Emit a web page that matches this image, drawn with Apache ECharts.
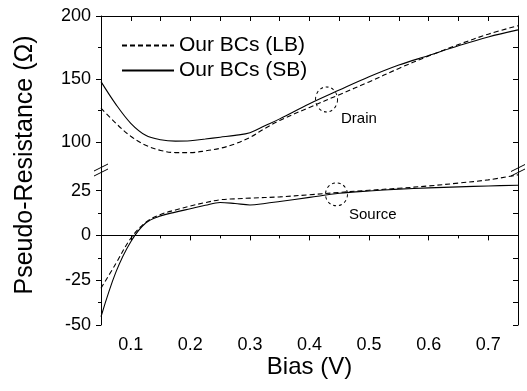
<!DOCTYPE html>
<html>
<head>
<meta charset="utf-8">
<script src="https://cdn.jsdelivr.net/npm/echarts@6/dist/echarts.min.js"></script>
<style>
  html, body { margin: 0; padding: 0; background: #fff; }
  #main { width: 527px; height: 391px; }
</style>
</head>
<body>
<div id="main"></div>
<script>
// drain curves (upper panel), [bias, resistance]
const drainLB = [[0.05,127],[0.075,115],[0.1,104.7],[0.125,97.6],[0.15,93.5],[0.175,91.8],[0.2,91.8],[0.225,93.1],[0.25,95.2],[0.275,98.7],[0.3,103.8],[0.325,110.9],[0.35,117.3],[0.4,127.6],[0.45,137.7],[0.5,147.8],[0.55,158.5],[0.6,168.3],[0.65,177.4],[0.7,185.6],[0.75,192.3]];
const drainSB = [[0.05,148],[0.075,130],[0.1,115],[0.125,105.5],[0.15,102],[0.175,100.9],[0.2,101.2],[0.225,102.5],[0.25,104],[0.275,105.4],[0.3,107.5],[0.325,113],[0.35,118.5],[0.4,130.5],[0.45,141.3],[0.5,151.8],[0.55,161.1],[0.6,168.7],[0.65,176.4],[0.7,183.4],[0.75,189]];
// source curves (lower panel)
const sourceLB = [[0.05,-29.5],[0.075,-15.7],[0.1,-1.6],[0.125,7.3],[0.15,11.7],[0.175,14.2],[0.2,16.4],[0.225,18.3],[0.25,19.9],[0.275,20.4],[0.3,20.8],[0.35,21.5],[0.4,22.7],[0.45,24],[0.5,25.2],[0.55,26.3],[0.6,27.6],[0.65,29.2],[0.7,31],[0.75,33.8]];
const sourceSB = [[0.05,-45.4],[0.075,-20.5],[0.1,-3.5],[0.125,6.9],[0.15,10.9],[0.175,13],[0.2,14.9],[0.225,16.8],[0.25,18.4],[0.275,17.8],[0.3,17],[0.325,17.8],[0.35,18.9],[0.4,21.2],[0.45,23.5],[0.5,24.8],[0.55,25.8],[0.6,26.5],[0.65,27.1],[0.7,27.6],[0.75,28]];

const biasTicks = [0.1, 0.2, 0.3, 0.4, 0.5, 0.6, 0.7];
const biasMinor = [0.15, 0.25, 0.35, 0.45, 0.55, 0.65];
const upperTicks = [100, 150, 200];
const upperMinor = [125, 175];
const lowerTicks = [-50, -25, 0, 25];
const lowerMinor = [-37.5, -12.5, 12.5];

const drainMark = [0.4286, 133.9];
const sourceMark = [0.4453, 22.9];

const font = 'Arial, "Liberation Sans", sans-serif';
const L = 101, R = 9, TOP = 16, BREAK = 170, BOTTOM = 66;

const chart = echarts.init(document.getElementById('main'));

const line = { show: true, lineStyle: { color: '#000', width: 1 } };
const noLine = { show: false };

function yAx(grid, min, max, opts) {
  return Object.assign({
    type: 'value', gridIndex: grid, min: min, max: max,
    splitLine: { show: false }, axisLabel: { show: false }
  }, opts);
}

function curve(name, xi, yi, data, dashed, mark) {
  const s = {
    name: name, type: 'line', xAxisIndex: xi, yAxisIndex: yi, data: data,
    smooth: 0.35, symbol: 'none', color: '#000',
    lineStyle: { color: '#000', width: 1.1, type: dashed ? [5, 3] : 'solid' }
  };
  if (mark) s.markPoint = mark;
  return s;
}

function circleMark(text, coord, size, dist, dy) {
  return {
    silent: true, symbol: 'circle', symbolSize: size,
    itemStyle: { color: 'rgba(0,0,0,0)', borderColor: '#000', borderWidth: 1, borderType: [3, 3] },
    label: { show: true, position: 'right', distance: dist, offset: [0, dy], formatter: text,
      fontFamily: font, fontSize: 15, color: '#000' },
    data: [{ coord: coord }]
  };
}

const option = {
  animation: false,
  backgroundColor: '#fff',
  grid: [
    { left: L, right: R, top: TOP, height: BREAK - TOP },
    { left: L, right: R, top: BREAK, bottom: BOTTOM }
  ],
  legend: {
    orient: 'vertical', left: 116, top: 30,
    itemWidth: 52, itemHeight: 14, itemGap: 4,
    itemStyle: { opacity: 0 },
    data: ['Our BCs (LB)', 'Our BCs (SB)'],
    textStyle: { fontFamily: font, fontSize: 21, color: '#000', lineHeight: 21 }
  },
  xAxis: [
    { type: 'value', gridIndex: 0, min: 0.05, max: 0.75, position: 'top',
      axisLine: line, splitLine: { show: false }, axisLabel: { show: false },
      axisTick: { inside: true, length: 5, lineStyle: { color: '#000' },
        customValues: biasTicks.concat(biasMinor) } },
    { type: 'value', gridIndex: 1, min: 0.05, max: 0.75, position: 'bottom',
      name: 'Bias (V)', nameLocation: 'middle', nameGap: 28,
      nameTextStyle: { fontFamily: font, fontSize: 24, color: '#000' },
      axisLine: line, splitLine: { show: false },
      axisTick: { length: 5, lineStyle: { color: '#000' }, customValues: biasTicks },
      axisLabel: { fontFamily: font, fontSize: 18, color: '#000', margin: 11, customValues: biasTicks } },
    { type: 'value', gridIndex: 1, min: 0.05, max: 0.75, position: 'bottom',
      axisLine: noLine, splitLine: { show: false }, axisLabel: { show: false },
      axisTick: { length: 3, lineStyle: { color: '#000' }, customValues: biasMinor } }
  ],
  yAxis: [
    yAx(0, 78, 200, { position: 'left', axisLine: line,
      axisTick: { length: 5, lineStyle: { color: '#000' }, customValues: upperTicks },
      axisLabel: { fontFamily: font, fontSize: 18, color: '#000', margin: 10, customValues: upperTicks } }),
    yAx(0, 78, 200, { position: 'left', axisLine: noLine,
      axisTick: { length: 3, lineStyle: { color: '#000' }, customValues: upperMinor } }),
    yAx(0, 78, 200, { position: 'right', axisLine: line,
      axisTick: { inside: true, length: 5, lineStyle: { color: '#000' }, customValues: upperTicks.concat(upperMinor) } }),
    yAx(1, -50, 36.5, { position: 'left', axisLine: line,
      axisTick: { length: 5, lineStyle: { color: '#000' }, customValues: lowerTicks },
      axisLabel: { fontFamily: font, fontSize: 18, color: '#000', margin: 10, customValues: lowerTicks } }),
    yAx(1, -50, 36.5, { position: 'left', axisLine: noLine,
      axisTick: { length: 3, lineStyle: { color: '#000' }, customValues: lowerMinor } }),
    yAx(1, -50, 36.5, { position: 'right', axisLine: line,
      axisTick: { inside: true, length: 5, lineStyle: { color: '#000' }, customValues: lowerTicks.concat(lowerMinor) } })
  ],
  series: [
    curve('Our BCs (LB)', 0, 0, drainLB, true),
    curve('Our BCs (SB)', 0, 0, drainSB, false, circleMark('Drain', drainMark, [22, 25], 3, 19)),
    curve('Our BCs (LB)', 1, 3, sourceLB, true),
    curve('Our BCs (SB)', 1, 3, sourceSB, false, circleMark('Source', sourceMark, [22, 23], 1, 20))
  ],
  graphic: [
    { type: 'text', x: 25, y: 165, rotation: Math.PI / 2,
      style: { text: 'Pseudo-Resistance (\u03A9)', font: '25px ' + font, fill: '#000',
        align: 'center', verticalAlign: 'middle' } }
  ]
};

// axis break marks on both vertical axes
const xr = 527 - R;
[[L, BREAK - 2.5], [L, BREAK + 2.5], [xr, BREAK - 2], [xr, BREAK + 2.5]].forEach(function (p) {
  option.graphic.push({ type: 'line', shape: { x1: p[0] - 7, y1: p[1] + 3.5, x2: p[0] + 7, y2: p[1] - 3.5 },
    style: { stroke: '#000', lineWidth: 1 } });
});

chart.setOption(option);
</script>
</body>
</html>
